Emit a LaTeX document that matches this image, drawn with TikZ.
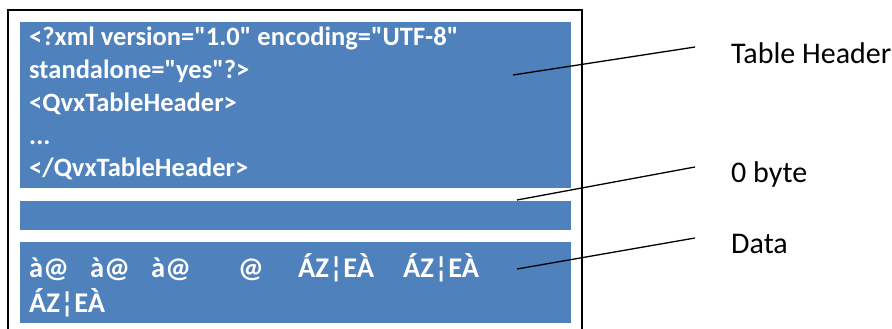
\documentclass[tikz,border=0pt]{standalone}
\usepackage{fontspec}
\setmainfont{Carlito}
\newfontfamily\codefont{Carlito}[Ligatures=TeXOff]
\definecolor{qvxblue}{HTML}{4F81BD}
\tikzset{
  blk/.style={fill=qvxblue, draw=none, anchor=north west, inner sep=0pt, minimum width=551pt},
  code/.style={anchor=base west, text=white, inner sep=0pt, font=\codefont\bfseries\fontsize{26.5}{30}\selectfont},
  bytes/.style={code, font=\codefont\bfseries\fontsize{28.5}{32}\selectfont},
  lbl/.style={anchor=west, inner sep=0pt, font=\fontsize{30}{34}\selectfont},
  pointer/.style={black, line width=1.3pt}
}
\begin{document}
\begin{tikzpicture}[x=1pt, y=-1pt]
        \useasboundingbox (0,0) rectangle (892,329);
        \clip (0,0) rectangle (892,329);
        % outer frame
        \draw[line width=1.4pt] (8,10) rectangle (582,345);
        % blocks
        \node[blk, minimum height=166pt] (header) at (20,22) {};
        \node[blk, minimum height=29pt] (zero) at (20,201) {};
        \node[blk, minimum height=81pt] (data) at (20,242) {};
        % header text
        \foreach \y/\t [count=\i] in {46/{<?xml version="1.0" encoding="UTF-8"}, 79/{standalone="yes"?>}, 111/{<QvxTableHeader>}, 144/{...}, 176/{</QvxTableHeader>}}
            \node[code] (hline\i) at (29,\y) {\t};
        % data text
        \foreach \x/\t [count=\i] in {29/à@, 90/à@, 151/à@, 238/@, 298/ÁZ¦EÀ, 403/ÁZ¦EÀ}
            \node[bytes] (dval\i) at (\x,277) {\t};
        \node[bytes] (dval7) at (29,312) {ÁZ¦EÀ};
        % labels
        \node[lbl] (hdrlbl) at (731,53) {Table Header};
        \node[lbl] (zerolbl) at (731,175) {0 byte};
        \node[lbl] (datalbl) at (731,244) {Data};
        \coordinate (hdrin) at (513,75);
        \coordinate (hdrout) at (695,47);
        \coordinate (zeroin) at (517,200);
        \coordinate (zeroout) at (695,167);
        \coordinate (datain) at (517,269);
        \coordinate (dataout) at (695,238);
        \draw[pointer] (hdrin) -- (hdrout);
        \draw[pointer] (zeroin) -- (zeroout);
        \draw[pointer] (datain) -- (dataout);
\end{tikzpicture}
\end{document}
